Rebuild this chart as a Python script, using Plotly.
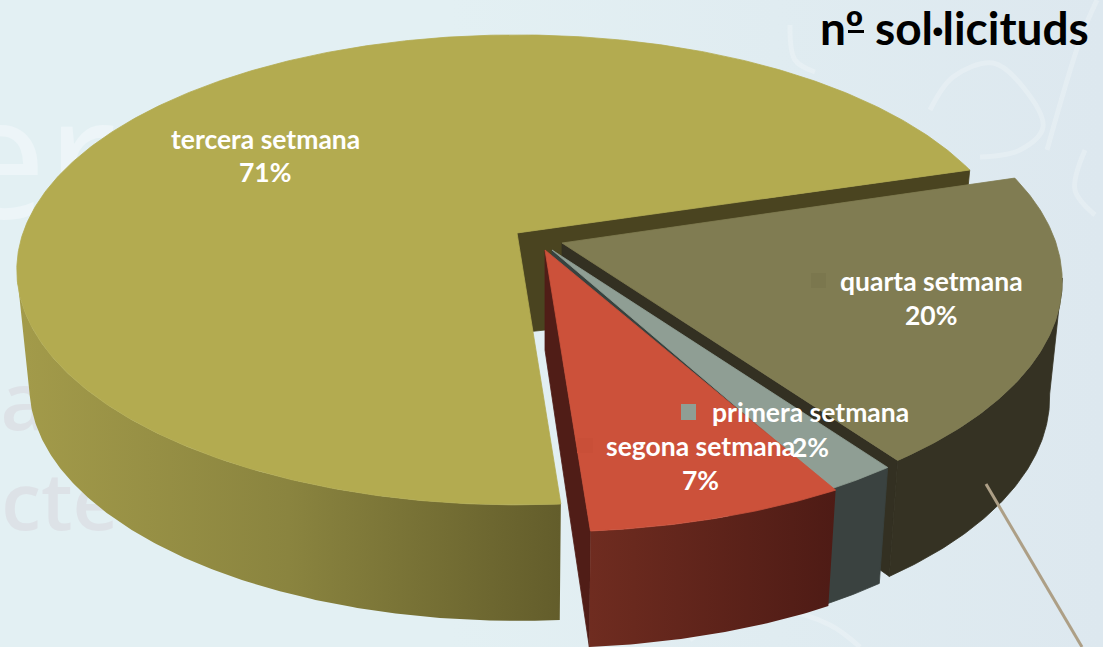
import math
import plotly.graph_objects as go

# ---- data ----
categories = ["quarta setmana", "primera setmana", "segona setmana", "tercera setmana"]
values = [20, 2, 7, 71]
colors_top = ["#807c52", "#8f9e94", "#cc513a", "#b3ab50"]
colors_wall = ["#333022", "#37423f", "#501d17", "#4a4420"]

# ---- pie geometry (perspective view of a circle) ----
START = -16.7
WARP = 1.55
K, A, B, C = 0.157, 494.0, 235.0, -37.0
DEPTH_EDGE, DEPTH_CENTRE, SHRINK = 116.0, 100.0, 0.975
apex = {"quarta setmana": (562, 243, 1.0, 1.03), "primera setmana": (552, 250, 1.0, 1.03),
        "segona setmana": (545, 250, 1.037, 1.037), "tercera setmana": (517, 233, 1.0, 1.0)}


def pt(th, key, bottom=False):
    ax, ay, rx, ry = apex[key]
    r = math.radians(th)
    t = math.radians(th - WARP * (1 + math.sin(r)) + WARP * 0.713)
    w = 1 - K * math.sin(t)
    X = A * rx * math.cos(t) / w
    Y = ry * ((B * math.sin(t) + C) / w - C)
    if bottom:
        return ax + SHRINK * X, ay + DEPTH_EDGE + Y
    return ax + X, ay + Y


def arc(a0, a1, key, bottom=False):
    n = max(int(abs(a1 - a0) * 2), 2)
    return [pt(a0 + (a1 - a0) * i / n, key, bottom) for i in range(n + 1)]


def poly(points, color=None, gradient=None):
    xs = [p[0] for p in points] + [points[0][0]]
    ys = [p[1] for p in points] + [points[0][1]]
    if gradient:
        kw = dict(fillgradient=gradient, line=dict(width=0))
    else:
        kw = dict(fillcolor=color, line=dict(width=0.8, color=color))
    return go.Scatter(x=xs, y=ys, mode="lines", fill="toself",
                      hoverinfo="skip", showlegend=False, **kw)


spans = {}
cur = START
for name, v in zip(categories, values):
    spans[name] = (cur, cur + v * 3.6)
    cur += v * 3.6

fig = go.Figure()

# background tint, faint map strokes and ghost words behind the pie
fig.add_trace(poly([(450, 0), (1103, 0), (1103, 647), (450, 647)],
                   gradient=dict(type="horizontal",
                                 colorscale=[[0, "rgba(221,232,239,0)"], [1, "rgba(221,232,239,1)"]])))
map_strokes = [
    [(930, 110), (953, 77), (993, 63), (1023, 87), (1043, 127), (1020, 150), (980, 157)],
    [(1047, 150), (1080, 40), (1097, 0)],
    [(790, 25), (795, 60), (815, 72)],
    [(1085, 150), (1075, 190), (1095, 215)],
    [(690, 640), (730, 615), (780, 610), (830, 625), (860, 647)],
]
for s in map_strokes:
    fig.add_trace(go.Scatter(x=[p[0] for p in s], y=[p[1] for p in s], mode="lines",
                             line=dict(color="rgba(255,255,255,0.22)", width=5, shape="spline"),
                             hoverinfo="skip", showlegend=False))
ghost_words = [(116, 175, "er", 170, "#edf5f8", 400), (47, 410, "a", 80, "#dde2e7", 600),
               (174, 510, "cte r", 80, "#dde2e7", 600)]
for gx, gy, word, size, col, wt in ghost_words:
    fig.add_trace(go.Scatter(x=[gx], y=[gy], mode="text", text=[word], textposition="middle left",
                             textfont=dict(family="Open Sans", size=size, color=col, weight=wt),
                             hoverinfo="skip", showlegend=False))

side_grad = {
    "tercera setmana": dict(type="horizontal", colorscale=[[0, "#a39b4a"], [0.5, "#8a843f"], [1, "#635d2b"]]),
    "segona setmana": dict(type="horizontal", colorscale=[[0, "#6f2c20"], [1, "#4e1b15"]]),
}
side_color = {"quarta setmana": "#353223", "primera setmana": "#3a4240"}
side_range = {"tercera setmana": lambda a, b: (a, 171), "quarta setmana": lambda a, b: (9, b),
              "primera setmana": lambda a, b: (a, b), "segona setmana": lambda a, b: (a, b)}

# tercera first (back), then the front slices
for name in ["tercera setmana", "quarta setmana", "primera setmana", "segona setmana"]:
    a0, a1 = spans[name]
    ax, ay = apex[name][:2]
    i = categories.index(name)
    base = (ax, ay + DEPTH_CENTRE)
    fig.add_trace(poly([(ax, ay), pt(a1, name), pt(a1, name, True), base], colors_wall[i]))
    s0, s1 = side_range[name](a0, a1)
    fig.add_trace(poly(arc(s0, s1, name) + arc(s1, s0, name, True),
                       side_color.get(name), side_grad.get(name)))
    fig.add_trace(poly([(ax, ay)] + arc(a0, a1, name), colors_top[i]))

# leader line
fig.add_trace(go.Scatter(x=[986, 1082], y=[484, 647], mode="lines",
                         line=dict(color="#ad9f86", width=3), hoverinfo="skip", showlegend=False))

FONT = "Lato"
ann = []


def text(x, y, s, size, color, **kw):
    ann.append(dict(x=x, y=y, text=s, showarrow=False, xref="x", yref="y",
                    font=dict(family=FONT, size=size, color=color), **kw))


label_pos = {"tercera setmana": (265, 139, 265, 172), "quarta setmana": (931, 281, 931, 315),
             "primera setmana": (810, 412, 810, 447), "segona setmana": (700, 446, 700, 480)}
for name, v in zip(categories, values):
    x1, y1, x2, y2 = label_pos[name]
    text(x1, y1, f"<b>{name}</b>", 26.5, "#ffffff")
    text(x2, y2, f"<b>{v}%</b>", 26.5, "#ffffff")

text(1091, 27, "<b>nº sol·licituds</b>", 46, "#000000", xanchor="right")

squares = [(681, 404, 696, 420, "#8f9e94"), (577, 438, 593, 453, "#c94f38"), (811, 273, 826, 288, "#7b774e"),
           (848, 30, 864, 33, "#000000")]
shapes = [dict(type="rect", x0=a, y0=b, x1=c, y1=d, fillcolor=col, line_width=0, layer="above")
          for a, b, c, d, col in squares]

fig.update_layout(
    width=1103, height=647, margin=dict(l=0, r=0, t=0, b=0),
    paper_bgcolor="#e3f0f3", plot_bgcolor="rgba(0,0,0,0)",
    xaxis=dict(range=[0, 1103], visible=False, fixedrange=True),
    yaxis=dict(range=[647, 0], visible=False, fixedrange=True),
    annotations=ann, shapes=shapes, showlegend=False,
)
fig.write_html("out.html", config={"displayModeBar": False},
               post_script="document.body.style.margin='0';document.body.style.overflow='hidden';")
